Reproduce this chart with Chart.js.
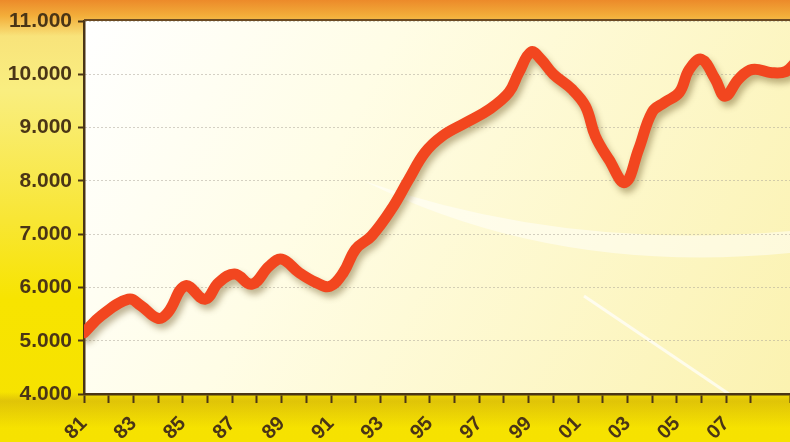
<!DOCTYPE html>
<html lang="en">
<head>
<meta charset="UTF-8">
<title>Index chart</title>
<style>
  html, body {
    margin: 0;
    padding: 0;
  }
  body {
    width: 790px;
    height: 442px;
    overflow: hidden;
    background:
      linear-gradient(to bottom, #ec8a2a 0px, #f3ae3a 16px, rgba(247,220,90,0) 36px),
      linear-gradient(to bottom, rgba(0,0,0,0) 392px, rgba(190,150,20,0.4) 401px, rgba(0,0,0,0) 428px),
      linear-gradient(to bottom, #f8e27a 30px, #f9ee80 90px, #f8e634 220px, #f7e400 300px, #f6e200 442px);
  }
  .wrapper {
    position: relative;
    width: 790px;
    height: 442px;
  }
</style>
</head>
<body>
<div class="wrapper">
  <canvas id="plot" width="790" height="442"></canvas>
</div>
<script src="https://cdn.jsdelivr.net/npm/chart.js"></script>
<script>
// years (fractional) and index values
const years = [
  1981.0, 1981.7, 1982.8, 1983.3, 1984.0, 1984.4, 1985.1, 1985.9, 1986.45, 1987.1,
  1987.8, 1988.5, 1989.0, 1989.7, 1990.4, 1990.95, 1991.5, 1992.0, 1992.65, 1993.45,
  1994.15, 1994.8, 1995.5, 1996.45, 1997.4, 1998.2, 1998.6, 1999.1, 1999.5, 2000.0,
  2000.75, 2001.3, 2001.7, 2002.25, 2002.9, 2003.45, 2004.0, 2004.5, 2005.1, 2005.5,
  2006.0, 2006.55, 2006.95, 2007.5, 2008.05, 2008.85, 2009.4, 2009.8
];
const values = [
  5150, 5470, 5780, 5660, 5420, 5530, 6030, 5780, 6090, 6250,
  6060, 6400, 6530, 6280, 6090, 6020, 6280, 6720, 6970, 7470,
  8030, 8530, 8840, 9090, 9340, 9660, 10030, 10420, 10280, 10000,
  9720, 9400, 8840, 8400, 7970, 8590, 9290, 9470, 9660, 10090,
  10280, 9910, 9590, 9910, 10090, 10030, 10050, 10220
];
const yTicks = [4000, 5000, 6000, 7000, 8000, 9000, 10000, 11000];
const xLabelYears = [1981, 1983, 1985, 1987, 1989, 1991, 1993, 1995, 1997, 1999, 2001, 2003, 2005, 2007];

const dark = '#4a3516';
const fontFamily = '"Liberation Sans", Arial, sans-serif';

const points = years.map((y, i) => ({ x: y, y: values[i] }));

const plotBackground = {
  id: 'plotBackground',
  beforeDraw(chart) {
    const { ctx, chartArea: a } = chart;
    ctx.save();
    const g = ctx.createLinearGradient(a.left, a.top, a.right, a.bottom);
    g.addColorStop(0, '#ffffff');
    g.addColorStop(0.35, '#fffde6');
    g.addColorStop(1, '#fbf2b0');
    ctx.fillStyle = g;
    ctx.fillRect(a.left, a.top, a.right - a.left, a.bottom - a.top);
    // soft white sweep
    ctx.beginPath();
    ctx.moveTo(a.left + 280, a.top + 160);
    ctx.quadraticCurveTo(a.left + 480, a.top + 230, a.right, a.top + 210);
    ctx.lineTo(a.right, a.top + 232);
    ctx.quadraticCurveTo(a.left + 470, a.top + 255, a.left + 280, a.top + 160);
    ctx.fillStyle = 'rgba(255,255,255,0.5)';
    ctx.fill();
    ctx.beginPath();
    ctx.moveTo(a.left + 500, a.top + 275);
    ctx.lineTo(a.left + 645, a.bottom);
    ctx.strokeStyle = 'rgba(255,255,255,0.7)';
    ctx.lineWidth = 3;
    ctx.stroke();
    ctx.restore();
  },
  afterDraw(chart) {
    const { ctx, chartArea: a } = chart;
    ctx.save();
    ctx.strokeStyle = '#6b4a22';
    ctx.lineWidth = 2;
    ctx.beginPath();
    ctx.moveTo(a.left, a.top - 1);
    ctx.lineTo(a.right, a.top - 1);
    ctx.stroke();
    ctx.restore();
  }
};

const lineShadow = {
  id: 'lineShadow',
  beforeDatasetDraw(chart) {
    const ctx = chart.ctx;
    ctx.save();
    ctx.shadowColor = 'rgba(110,90,40,0.45)';
    ctx.shadowBlur = 6;
    ctx.shadowOffsetX = 3;
    ctx.shadowOffsetY = 5;
  },
  afterDatasetDraw(chart) {
    chart.ctx.restore();
  }
};

new Chart(document.getElementById('plot'), {
  type: 'line',
  data: {
    datasets: [{
      data: points,
      borderColor: '#f2461f',
      borderWidth: 11,
      pointRadius: 0,
      tension: 0.4,
      borderCapStyle: 'round',
      borderJoinStyle: 'round',
      fill: false,
    }]
  },
  options: {
    responsive: false,
    animation: false,
    layout: { padding: { top: 21, right: 0, left: 0, bottom: 0 } },
    plugins: {
      legend: { display: false },
      tooltip: { enabled: false },
    },
    scales: {
      x: {
        type: 'linear',
        min: 1981,
        max: 2009.58,
        afterFit: (scale) => {
          scale.height = 48;
          scale.paddingLeft = 0;
          scale.paddingRight = 0;
        },
        border: { color: dark, width: 2.5 },
        grid: {
          drawOnChartArea: false,
          drawTicks: true,
          tickLength: 9,
          tickColor: dark,
          tickWidth: 2,
        },
        ticks: {
          stepSize: 1,
          autoSkip: false,
          minRotation: 45,
          maxRotation: 45,
          padding: 9,
          color: dark,
          font: { family: fontFamily, size: 20, weight: 'bold' },
          callback: (v) => (xLabelYears.includes(Math.round(v)) ? String(Math.round(v)).slice(2) : ''),
        },
      },
      y: {
        min: 4000,
        max: 11000,
        afterFit: (scale) => { scale.width = 84; },
        border: { color: dark, width: 2.5, dash: [1, 3] },
        grid: {
          color: '#a8a397',
          lineWidth: 1,
          tickLength: 6,
          tickBorderDash: [],
          tickColor: (c) => (yTicks.includes(c.tick.value) ? dark : 'rgba(0,0,0,0)'),
          tickWidth: 2,
        },
        ticks: {
          stepSize: 500,
          padding: 6,
          color: dark,
          font: { family: fontFamily, size: 21, weight: 'bold' },
          callback: (v) => (yTicks.includes(v) ? (v / 1000) + '.000' : ''),
        },
      },
    },
  },
  plugins: [plotBackground, lineShadow],
});
</script>
</body>
</html>
